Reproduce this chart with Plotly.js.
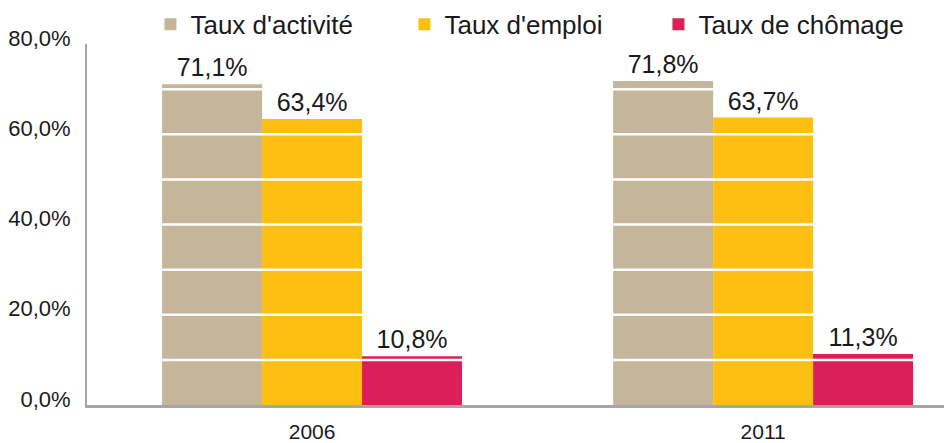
<!DOCTYPE html>
<html>
<head>
<meta charset="utf-8">
<script src="https://cdn.plot.ly/plotly-3.0.1.min.js"></script>
<style>html,body{margin:0;padding:0;background:#fff;}#chart{width:944px;height:443px;}</style>
</head>
<body>
<div id="chart"></div>
<script>
const years = ['2006', '2011'];
const seriesNames = ["Taux d'activité", "Taux d'emploi", "Taux de chômage"];
const tauxActivite = [71.1, 71.8];
const tauxEmploi = [63.4, 63.7];
const tauxChomage = [10.8, 11.3];
const yTickVals = [0, 20, 40, 60, 80];
const yTickText = ['0,0%', '20,0%', '40,0%', '60,0%', '80,0%'];
const gridLevels = [10, 20, 30, 40, 50, 60, 70];

const colors = ['#C4B59B', '#FDBF12', '#DC1F5B'];
const fmt = v => v.toFixed(1).replace('.', ',') + '%';
const labelFont = {family: 'Liberation Sans, Arial, sans-serif', size: 25, color: '#1a1a1a'};

const seriesValues = [tauxActivite, tauxEmploi, tauxChomage];
const traces = seriesValues.map((vals, i) => ({
  type: 'bar',
  name: seriesNames[i],
  x: years,
  y: vals,
  text: vals.map(fmt),
  textposition: 'outside',
  textfont: labelFont,
  cliponaxis: false,
  marker: {color: colors[i], line: {width: 0}},
  hoverinfo: 'skip'
}));

const shapes = gridLevels.map(v => ({
  type: 'line', xref: 'paper', yref: 'y',
  x0: 0.003, x1: 1, y0: v, y1: v,
  line: {color: '#ffffff', width: 2.5},
  layer: 'above'
}));

const layout = {
  width: 944, height: 443,
  margin: {l: 87, r: 0, t: 44, b: 38, pad: 0, autoexpand: false},
  paper_bgcolor: '#ffffff', plot_bgcolor: '#ffffff',
  barmode: 'group', bargap: 0.335, bargroupgap: 0,
  showlegend: true,
  legend: {
    orientation: 'h', xref: 'paper', x: 0.074, xanchor: 'left',
    yref: 'container', y: 0.998, yanchor: 'top',
    entrywidth: 209, entrywidthmode: 'pixels',
    font: {family: 'Liberation Sans, Arial, sans-serif', size: 26, color: '#1a1a1a'},
    traceorder: 'normal', bgcolor: 'rgba(0,0,0,0)'
  },
  xaxis: {
    type: 'category', range: [-0.499, 1.401],
    showline: true, linecolor: '#a6a6a6', linewidth: 2.5,
    ticks: '', showgrid: false, zeroline: false,
    tickfont: {family: 'Liberation Sans, Arial, sans-serif', size: 21, color: '#1a1a1a'},
    ticklabelstandoff: 6
  },
  yaxis: {
    range: [0, 80], tickvals: yTickVals, ticktext: yTickText,
    showline: true, linecolor: '#a6a6a6', linewidth: 2,
    ticks: '', showgrid: false, zeroline: false,
    tickfont: {family: 'Liberation Sans, Arial, sans-serif', size: 22, color: '#1a1a1a'},
    ticklabelstandoff: 10, ticklabelshift: -6
  },
  shapes: shapes,
  font: {family: 'Liberation Sans, Arial, sans-serif'}
};

Plotly.newPlot('chart', traces, layout, {displayModeBar: false, staticPlot: true});
</script>
</body>
</html>
